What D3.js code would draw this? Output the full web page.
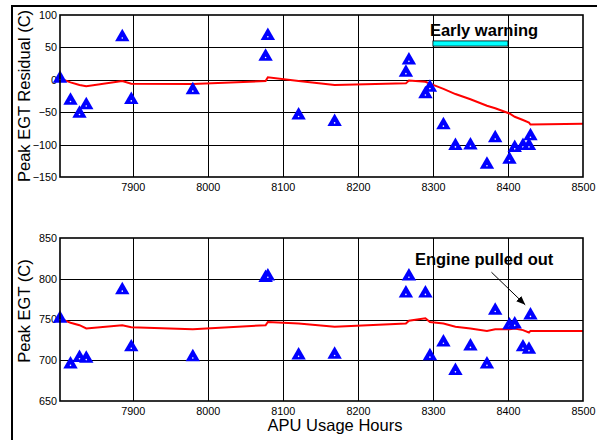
<!DOCTYPE html>
<html>
<head>
<meta charset="utf-8">
<script src="https://cdn.jsdelivr.net/npm/d3@7"></script>
<style>
  body { margin: 0; background: #fff; }
  svg { font-family: Arial, "Liberation Sans", sans-serif; }
</style>
</head>
<body>
<div id="canvas"></div>
<script>
// data
const hours = [7803, 7817, 7829, 7838, 7886, 7898, 7980, 8077, 8080, 8121, 8169, 8264, 8268,
  8290, 8296, 8314, 8330, 8350, 8372, 8383, 8402, 8409, 8420, 8428, 8430];
const residual = [2, -32, -52, -39, 66, -31, -16, 36, 68, -55, -65, 11, 30,
  -22, -12, -70, -102, -101, -131, -90, -123, -105, -102, -102, -87];
const peakEgt = [751, 695, 703, 702, 786, 716, 704, 801, 803, 706, 707, 782, 803,
  782, 705, 722, 687, 717, 695, 761, 743, 744, 716, 713, 755];

const trendHours = hours.concat([8500]);
const residualTrend = [2, -4, -8, -10, -2, -6, -6.5, -2, 4, -2, -8, -5.5, -1,
  -3, -6, -14, -22, -30, -40, -44, -52, -57, -62, -66, -69, -68];
const egtTrend = [751, 746, 743, 739, 743, 740.5, 738, 743, 747, 745, 741, 745, 748.5,
  751.5, 747, 745, 741, 739, 736, 738, 738, 739, 737, 734, 736, 736];

const xTicks = [7900, 8000, 8100, 8200, 8300, 8400, 8500];
const residualTicks = [100, 50, 0, -50, -100, -150];
const egtTicks = [850, 800, 750, 700, 650];

const width = 598, height = 440;
const left = 60, right = 583;

const svg = d3.select("#canvas").append("svg")
  .attr("width", width).attr("height", height);

// figure outline (only top and left edges visible)
svg.append("line").attr("x1", 12).attr("x2", 597).attr("y1", 6).attr("y2", 6)
  .attr("stroke", "#000").attr("stroke-width", 2);
svg.append("line").attr("x1", 12).attr("x2", 12).attr("y1", 5).attr("y2", height)
  .attr("stroke", "#000").attr("stroke-width", 2);

const x = d3.scaleLinear().domain([hours[0], 8500]).range([left, right]);

function panel(top, bottom, domain, ticks, pts, trend, title, titleY) {
  const y = d3.scaleLinear().domain(domain).range([bottom, top]);
  const g = svg.append("g");

  // grid
  g.selectAll(".vg").data(xTicks.slice(0, -1)).enter().append("line")
    .attr("x1", d => Math.round(x(d)) + 0.5).attr("x2", d => Math.round(x(d)) + 0.5)
    .attr("y1", top).attr("y2", bottom)
    .attr("stroke", "#000").attr("stroke-width", 1);
  g.selectAll(".hg").data(ticks.slice(1, -1)).enter().append("line")
    .attr("x1", left).attr("x2", right)
    .attr("y1", d => Math.round(y(d)) + 0.5).attr("y2", d => Math.round(y(d)) + 0.5)
    .attr("stroke", "#000").attr("stroke-width", 1);

  const xa = g.append("g").attr("transform", `translate(0,${bottom})`)
    .call(d3.axisBottom(x).tickValues(xTicks).tickFormat(d3.format("d"))
      .tickSize(0).tickPadding(6));
  const ya = g.append("g").attr("transform", `translate(${left},0)`)
    .call(d3.axisLeft(y).tickValues(ticks).tickFormat(d3.format("d"))
      .tickSize(0).tickPadding(3));
  [xa, ya].forEach(a => {
    a.select(".domain").remove();
    a.selectAll("text").attr("font-size", 10.8).attr("fill", "#000")
      .attr("font-family", "Arial, 'Liberation Sans', sans-serif");
  });

  // trend line
  const line = d3.line().x((d, i) => x(trendHours[i])).y(d => y(d));
  g.append("path").datum(trend).attr("d", line)
    .attr("fill", "none").attr("stroke", "#ff0000").attr("stroke-width", 2);

  // triangles
  const tri = d3.symbol().type(d3.symbolTriangle).size(90);
  const m = g.selectAll(".m").data(pts).enter().append("g")
    .attr("transform", (d, i) => `translate(${x(hours[i])},${y(d)})`);
  m.append("path").attr("d", tri).attr("fill", "#0000ff");
  m.append("circle").attr("r", 0.8).attr("cy", 1).attr("fill", "#fff");

  // frame
  g.append("rect").attr("x", left).attr("y", top)
    .attr("width", right - left).attr("height", bottom - top)
    .attr("fill", "none").attr("stroke", "#000").attr("stroke-width", 1.6);

  svg.append("text")
    .attr("transform", `translate(30,${titleY}) rotate(-90)`)
    .attr("text-anchor", "middle").attr("font-size", 16.5).text(title);
  return y;
}

const yr = panel(15, 177, [-150, 100], residualTicks, residual, residualTrend,
  "Peak EGT Residual (C)", 96);
const ye = panel(238, 401, [650, 850], egtTicks, peakEgt, egtTrend,
  "Peak EGT (C)", 311);

// early warning band
svg.append("rect").attr("x", x(8300)).attr("y", yr(60))
  .attr("width", x(8400) - x(8300)).attr("height", yr(52) - yr(60))
  .attr("fill", "#00ffff").attr("stroke", "#000").attr("stroke-width", 0.8);
svg.append("text").attr("x", x(8296)).attr("y", yr(67))
  .attr("font-size", 16.5).attr("font-weight", "bold").text("Early warning");

// engine pulled out
svg.append("defs").append("marker").attr("id", "ah")
  .attr("viewBox", "0 0 10 10").attr("refX", 10).attr("refY", 5)
  .attr("markerWidth", 9).attr("markerHeight", 9).attr("orient", "auto")
  .attr("markerUnits", "userSpaceOnUse")
  .append("path").attr("d", "M0,1L10,5L0,9Z").attr("fill", "#000");
svg.append("line").attr("x1", x(8378)).attr("y1", ye(808))
  .attr("x2", x(8423)).attr("y2", ye(768))
  .attr("stroke", "#000").attr("stroke-width", 1).attr("marker-end", "url(#ah)");
svg.append("text").attr("x", x(8276)).attr("y", ye(817))
  .attr("font-size", 16.5).attr("font-weight", "bold").text("Engine pulled out");

svg.append("text").attr("x", 335).attr("y", 431)
  .attr("text-anchor", "middle").attr("font-size", 16.5).text("APU Usage Hours");
</script>
</body>
</html>
